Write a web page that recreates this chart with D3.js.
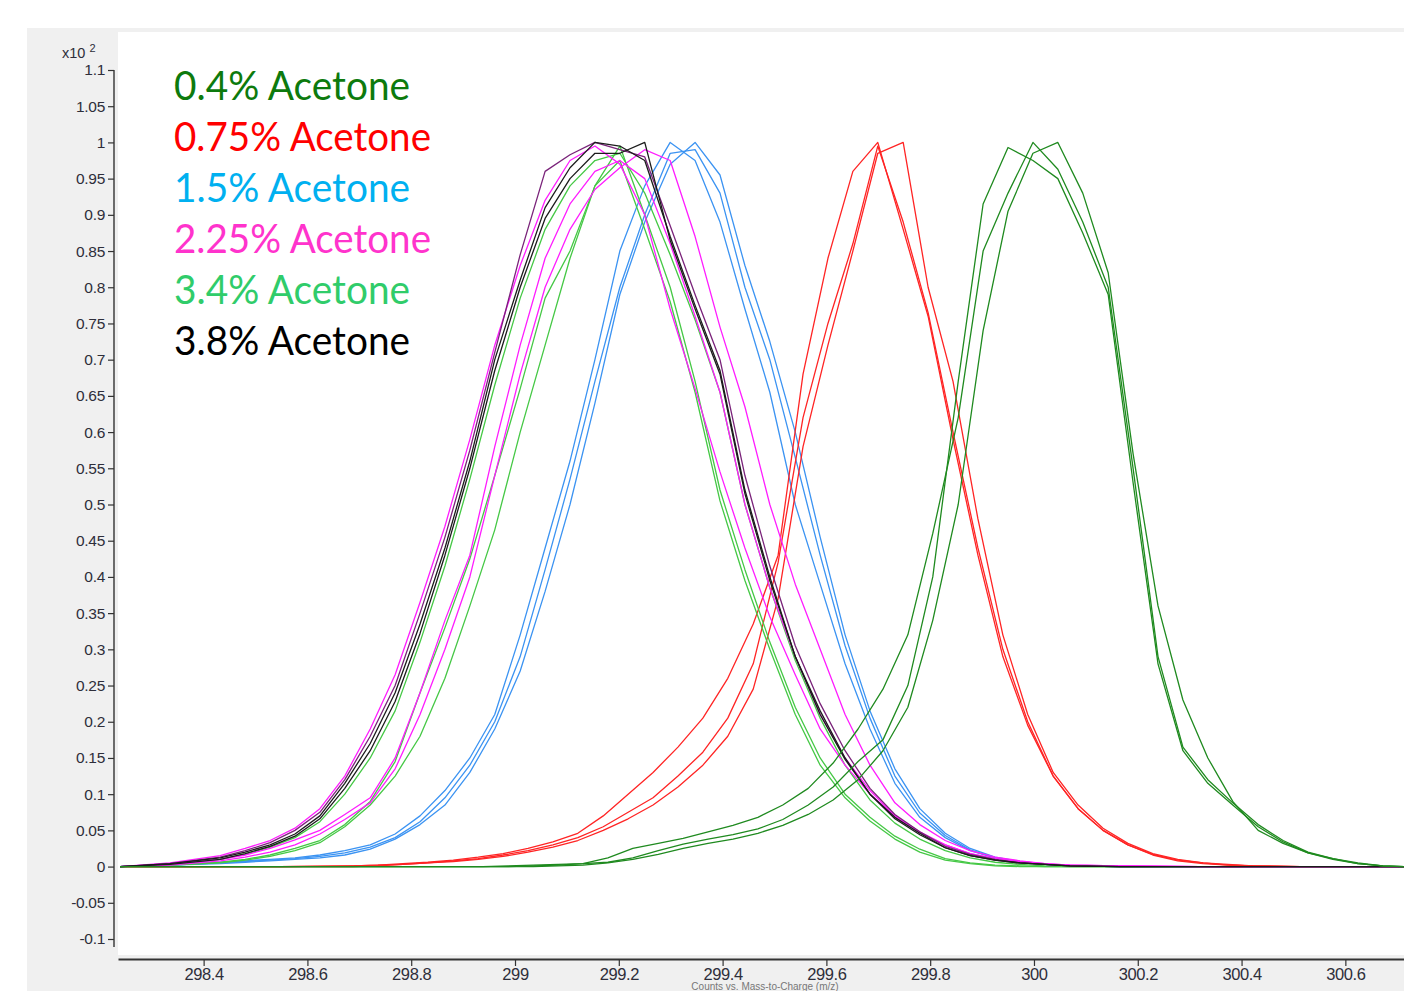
<!DOCTYPE html>
<html>
<head>
<meta charset="utf-8">
<script src="https://cdn.jsdelivr.net/npm/d3@7"></script>
<style>
  body { margin: 0; background: #fff; }
</style>
</head>
<body>
<div id="chart"></div>
<script>
// m/z grid shared by the 1.5%, 2.25%, 3.4% and 3.8% traces
var mainMz = [298.239, 298.335, 298.432, 298.480, 298.528, 298.576, 298.624, 298.672, 298.721, 298.769,
              298.817, 298.865, 298.913, 298.961, 299.010, 299.058, 299.106, 299.154, 299.202, 299.250,
              299.299, 299.347, 299.395, 299.443, 299.491, 299.540, 299.588, 299.636, 299.684, 299.732,
              299.780, 299.829, 299.877, 299.925, 299.973, 300.021, 300.069, 300.166, 300.320, 300.513, 300.713];

var black1 = [0, 0.004, 0.012, 0.02, 0.03, 0.045, 0.07, 0.115, 0.17, 0.24, 0.335, 0.44, 0.56, 0.70, 0.81, 0.91, 0.965, 1.0, 0.995, 0.975,
              0.87, 0.775, 0.685, 0.52, 0.40, 0.29, 0.215, 0.15, 0.10, 0.068, 0.046, 0.026, 0.015, 0.009, 0.005, 0.003, 0.001, 0, 0, 0, 0];
var black2 = [0, 0.003, 0.01, 0.018, 0.028, 0.042, 0.066, 0.108, 0.16, 0.228, 0.322, 0.43, 0.55, 0.685, 0.80, 0.895, 0.95, 0.985, 0.985, 1.0,
              0.865, 0.77, 0.68, 0.515, 0.395, 0.29, 0.21, 0.148, 0.10, 0.066, 0.044, 0.026, 0.015, 0.009, 0.005, 0.003, 0.001, 0, 0, 0, 0];
var purple3 = [0, 0.004, 0.013, 0.022, 0.033, 0.05, 0.075, 0.12, 0.18, 0.25, 0.35, 0.455, 0.575, 0.71, 0.845, 0.96, 0.983, 1.0, 0.99, 0.98,
               0.885, 0.79, 0.70, 0.54, 0.415, 0.305, 0.225, 0.16, 0.108, 0.072, 0.048, 0.028, 0.017, 0.01, 0.005, 0.003, 0.001, 0, 0, 0, 0];

var mag1 = [0, 0.005, 0.015, 0.025, 0.036, 0.053, 0.08, 0.125, 0.19, 0.265, 0.365, 0.47, 0.59, 0.72, 0.83, 0.92, 0.975, 0.995, 0.97, 0.90,
            0.77, 0.66, 0.545, 0.44, 0.345, 0.265, 0.19, 0.14, 0.10, 0.07, 0.047, 0.03, 0.018, 0.011, 0.007, 0.004, 0.002, 0.001, 0, 0, 0];
var mag2 = [0, 0.003, 0.01, 0.016, 0.025, 0.037, 0.05, 0.072, 0.095, 0.15, 0.24, 0.34, 0.43, 0.58, 0.72, 0.84, 0.915, 0.96, 0.975, 0.95,
            0.86, 0.76, 0.655, 0.50, 0.385, 0.29, 0.21, 0.15, 0.105, 0.07, 0.048, 0.03, 0.018, 0.011, 0.006, 0.003, 0.002, 0.001, 0, 0, 0];
var mag3 = [0, 0.002, 0.008, 0.013, 0.02, 0.03, 0.045, 0.065, 0.088, 0.135, 0.21, 0.30, 0.40, 0.54, 0.68, 0.80, 0.88, 0.935, 0.965, 0.99,
            0.975, 0.87, 0.745, 0.635, 0.50, 0.39, 0.30, 0.21, 0.14, 0.088, 0.058, 0.036, 0.022, 0.013, 0.008, 0.004, 0.002, 0.001, 0, 0, 0];

var lgreen1 = [0, 0.003, 0.01, 0.017, 0.027, 0.04, 0.062, 0.10, 0.15, 0.215, 0.31, 0.415, 0.535, 0.665, 0.785, 0.88, 0.94, 0.975, 0.985, 0.93,
               0.845, 0.755, 0.655, 0.50, 0.385, 0.285, 0.205, 0.14, 0.092, 0.06, 0.038, 0.022, 0.012, 0.006, 0.003, 0.001, 0, 0, 0, 0, 0];
var lgreen2 = [0, 0.002, 0.006, 0.01, 0.016, 0.025, 0.036, 0.058, 0.09, 0.145, 0.24, 0.33, 0.425, 0.54, 0.66, 0.785, 0.85, 0.94, 0.995, 0.90,
               0.80, 0.67, 0.52, 0.41, 0.31, 0.22, 0.15, 0.10, 0.068, 0.042, 0.024, 0.011, 0.005, 0.002, 0.001, 0, 0, 0, 0, 0, 0];
var lgreen3 = [0, 0.002, 0.005, 0.009, 0.014, 0.022, 0.033, 0.055, 0.085, 0.125, 0.18, 0.26, 0.36, 0.465, 0.60, 0.72, 0.84, 0.94, 0.975, 0.88,
               0.78, 0.655, 0.505, 0.395, 0.30, 0.21, 0.14, 0.095, 0.063, 0.038, 0.02, 0.009, 0.004, 0.001, 0, 0, 0, 0, 0, 0, 0];

var blue1 = [0, 0.003, 0.006, 0.008, 0.01, 0.012, 0.016, 0.022, 0.03, 0.045, 0.07, 0.105, 0.15, 0.21, 0.32, 0.44, 0.56, 0.70, 0.85, 0.94,
             1.0, 0.975, 0.89, 0.77, 0.655, 0.50, 0.39, 0.28, 0.19, 0.115, 0.068, 0.04, 0.022, 0.012, 0.006, 0.003, 0.001, 0, 0, 0, 0];
var blue2 = [0, 0.002, 0.004, 0.006, 0.008, 0.01, 0.012, 0.016, 0.024, 0.038, 0.058, 0.085, 0.13, 0.19, 0.27, 0.38, 0.50, 0.64, 0.79, 0.89,
             0.97, 1.0, 0.955, 0.83, 0.725, 0.60, 0.455, 0.32, 0.215, 0.135, 0.08, 0.046, 0.025, 0.013, 0.007, 0.003, 0.001, 0, 0, 0, 0];
var blue3 = [0, 0.002, 0.005, 0.007, 0.009, 0.011, 0.014, 0.019, 0.027, 0.04, 0.062, 0.095, 0.14, 0.20, 0.29, 0.41, 0.535, 0.67, 0.80, 0.90,
             0.985, 0.99, 0.93, 0.80, 0.70, 0.565, 0.43, 0.305, 0.205, 0.125, 0.074, 0.043, 0.023, 0.012, 0.006, 0.003, 0.001, 0, 0, 0, 0];

// 0.75% acetone
var redMz = [298.239, 298.393, 298.547, 298.688, 298.736, 298.784, 298.832, 298.881, 298.929, 298.977,
             299.025, 299.073, 299.121, 299.170, 299.218, 299.266, 299.314, 299.362, 299.410, 299.459,
             299.507, 299.555, 299.603, 299.651, 299.699, 299.748, 299.796, 299.844, 299.892, 299.940,
             299.988, 300.037, 300.085, 300.133, 300.181, 300.229, 300.277, 300.326, 300.374, 300.422, 300.513, 300.713];
var red1 = [0, 0, 0, 0.001, 0.002, 0.004, 0.006, 0.009, 0.013, 0.018, 0.025, 0.034, 0.046, 0.07, 0.10, 0.13, 0.165, 0.205, 0.26, 0.335,
            0.43, 0.68, 0.84, 0.96, 1.0, 0.88, 0.76, 0.59, 0.43, 0.29, 0.195, 0.125, 0.08, 0.05, 0.03, 0.016, 0.008, 0.004, 0.002, 0.001, 0, 0];
var red2 = [0, 0, 0, 0.001, 0.002, 0.003, 0.005, 0.008, 0.011, 0.016, 0.022, 0.03, 0.04, 0.055, 0.075, 0.095, 0.125, 0.158, 0.205, 0.28,
            0.42, 0.62, 0.75, 0.86, 0.995, 0.89, 0.765, 0.60, 0.44, 0.30, 0.20, 0.125, 0.08, 0.05, 0.03, 0.017, 0.009, 0.005, 0.002, 0.001, 0, 0];
var red3 = [0, 0, 0, 0, 0.001, 0.003, 0.005, 0.007, 0.01, 0.014, 0.02, 0.027, 0.036, 0.05, 0.066, 0.085, 0.11, 0.14, 0.18, 0.245,
            0.37, 0.58, 0.72, 0.85, 0.985, 1.0, 0.80, 0.67, 0.48, 0.32, 0.21, 0.13, 0.085, 0.053, 0.032, 0.018, 0.01, 0.005, 0.003, 0.001, 0, 0];

// 0.4% acetone
var dgreenMz = [298.239, 298.393, 298.586, 298.778, 298.938, 298.987, 299.035, 299.083, 299.131, 299.179,
                299.227, 299.276, 299.324, 299.372, 299.420, 299.468, 299.516, 299.565, 299.613, 299.661,
                299.709, 299.757, 299.805, 299.854, 299.902, 299.950, 299.998, 300.046, 300.094, 300.143,
                300.191, 300.239, 300.287, 300.335, 300.383, 300.432, 300.480, 300.528, 300.576, 300.624, 300.672, 300.713];
var dgreen1 = [0, 0, 0, 0, 0, 0.001, 0.002, 0.003, 0.004, 0.006, 0.012, 0.022, 0.031, 0.038, 0.044, 0.052, 0.065, 0.085, 0.11, 0.145,
               0.175, 0.25, 0.40, 0.67, 0.915, 0.993, 0.975, 0.95, 0.875, 0.79, 0.53, 0.28, 0.16, 0.115, 0.085, 0.055, 0.034, 0.019, 0.01, 0.004, 0.001, 0];
var dgreen2 = [0, 0, 0, 0, 0, 0, 0.001, 0.002, 0.004, 0.012, 0.025, 0.032, 0.039, 0.048, 0.057, 0.068, 0.085, 0.108, 0.143, 0.19,
               0.245, 0.32, 0.46, 0.62, 0.85, 0.93, 1.0, 0.963, 0.89, 0.80, 0.55, 0.29, 0.165, 0.12, 0.088, 0.058, 0.036, 0.02, 0.011, 0.005, 0.001, 0];
var dgreen3 = [0, 0, 0, 0, 0, 0, 0, 0.001, 0.002, 0.005, 0.01, 0.017, 0.025, 0.032, 0.038, 0.046, 0.057, 0.072, 0.092, 0.12,
               0.16, 0.22, 0.34, 0.50, 0.74, 0.905, 0.985, 1.0, 0.93, 0.82, 0.57, 0.36, 0.23, 0.15, 0.09, 0.05, 0.032, 0.019, 0.011, 0.004, 0.001, 0];

var legendLabels = ["0.4% Acetone", "0.75% Acetone", "1.5% Acetone", "2.25% Acetone", "3.4% Acetone", "3.8% Acetone"];

var xTicks = [298.4, 298.6, 298.8, 299, 299.2, 299.4, 299.6, 299.8, 300, 300.2, 300.4, 300.6];
var xTickLabels = ["298.4", "298.6", "298.8", "299", "299.2", "299.4", "299.6", "299.8", "300", "300.2", "300.4", "300.6"];
var yTicks = [1.1, 1.05, 1, 0.95, 0.9, 0.85, 0.8, 0.75, 0.7, 0.65, 0.6, 0.55, 0.5, 0.45, 0.4, 0.35, 0.3, 0.25, 0.2, 0.15, 0.1, 0.05, 0, -0.05, -0.1];
var yTickLabels = ["1.1", "1.05", "1", "0.95", "0.9", "0.85", "0.8", "0.75", "0.7", "0.65", "0.6", "0.55", "0.5", "0.45", "0.4",
                   "0.35", "0.3", "0.25", "0.2", "0.15", "0.1", "0.05", "0", "-0.05", "-0.1"];

// traces in drawing order (later ones end up on top)
var traces = [
    {mz: mainMz, v: blue1, c: "#3b93f2"},
    {mz: mainMz, v: blue2, c: "#3b93f2"},
    {mz: mainMz, v: blue3, c: "#3b93f2"},
    {mz: redMz, v: red1, c: "#ff2424"},
    {mz: redMz, v: red2, c: "#ff2424"},
    {mz: redMz, v: red3, c: "#ff2424"},
    {mz: mainMz, v: lgreen1, c: "#45c845"},
    {mz: mainMz, v: lgreen2, c: "#45c845"},
    {mz: mainMz, v: lgreen3, c: "#45c845"},
    {mz: mainMz, v: mag1, c: "#ff1cff"},
    {mz: mainMz, v: mag2, c: "#ff1cff"},
    {mz: mainMz, v: mag3, c: "#ff1cff"},
    {mz: mainMz, v: purple3, c: "#7a237a"},
    {mz: mainMz, v: black1, c: "#1c1c1c"},
    {mz: mainMz, v: black2, c: "#1c1c1c"},
    {mz: dgreenMz, v: dgreen1, c: "#1f8a1f"},
    {mz: dgreenMz, v: dgreen2, c: "#1f8a1f"},
    {mz: dgreenMz, v: dgreen3, c: "#1f8a1f"}
];
var legendColors = ["#0d7a0d", "#ff0000", "#00b0f0", "#ff33cc", "#30cc6a", "#000000"];
var legendWidths = [236, 257, 236, 257, 236, 236];

var width = 1404, height = 991;
var plot = {left: 118, top: 32, right: 1404, bottom: 955};
var tickFont = "'Liberation Sans', Arial, sans-serif";

var svg = d3.select("#chart")
  .append("svg")
    .attr("width", width)
    .attr("height", height);

// grey frame and white plot area
svg.append("rect")
    .attr("x", 27).attr("y", 28)
    .attr("width", width - 27).attr("height", height - 28)
    .style("fill", "#f0f0f0");
svg.append("rect")
    .attr("x", plot.left).attr("y", plot.top)
    .attr("width", plot.right - plot.left).attr("height", plot.bottom - plot.top)
    .style("fill", "#ffffff");

var x = d3.scaleLinear().domain([298.235, 300.713]).range([plot.left, plot.right]);
var y = d3.scaleLinear().domain([-0.1, 1.1]).range([939, 70]);

svg.append("clipPath").attr("id", "clip")
  .append("rect")
    .attr("x", plot.left).attr("y", plot.top)
    .attr("width", plot.right - plot.left).attr("height", plot.bottom - plot.top);

var line = d3.line()
    .x(function(d) { return x(d[0]); })
    .y(function(d) { return y(d[1]); });

svg.append("g")
    .attr("clip-path", "url(#clip)")
  .selectAll("path")
  .data(traces)
  .enter()
  .append("path")
    .attr("d", function(t) { return line(t.mz.map(function(m, i) { return [m, t.v[i]]; })); })
    .style("fill", "none")
    .style("stroke", function(t) { return t.c; })
    .style("stroke-width", 1.3)
    .style("stroke-linejoin", "round");

// y axis
var gy = svg.append("g")
    .attr("transform", "translate(114,0)")
    .call(d3.axisLeft(y)
        .tickValues(yTicks)
        .tickSize(6)
        .tickSizeOuter(0)
        .tickPadding(3)
        .tickFormat(function(d, i) { return yTickLabels[i]; }));
gy.select(".domain").remove();
gy.append("line")
    .attr("x1", 0).attr("x2", 0)
    .attr("y1", y(1.1)).attr("y2", y(-0.1) + 8)
    .style("stroke", "#333")
    .style("stroke-width", 1.4);
gy.selectAll(".tick line").style("stroke", "#333").style("stroke-width", 1.2);
gy.selectAll(".tick text")
    .style("font-family", tickFont)
    .style("font-size", "15.5px")
    .style("letter-spacing", "-0.3px")
    .style("fill", "#2e2e3a");

// x axis
var gx = svg.append("g")
    .attr("transform", "translate(0,959)")
    .call(d3.axisBottom(x)
        .tickValues(xTicks)
        .tickSize(7)
        .tickSizeOuter(0)
        .tickPadding(2)
        .tickFormat(function(d, i) { return xTickLabels[i]; }));
gx.select(".domain").style("stroke", "#333").style("stroke-width", 2.2);
gx.selectAll(".tick line").style("stroke", "#333").style("stroke-width", 1.2);
gx.selectAll(".tick text")
    .style("font-family", tickFont)
    .style("font-size", "16.5px")
    .style("letter-spacing", "-0.4px")
    .style("fill", "#2e2e3a");

// scale factor label
var sf = svg.append("text")
    .attr("x", 62).attr("y", 58)
    .style("font-family", tickFont)
    .style("font-size", "14.5px")
    .style("fill", "#2e2e3a");
sf.append("tspan").text("x10");
sf.append("tspan").attr("dx", 4).attr("dy", -6).style("font-size", "11px").text("2");

// axis title, squeezed into the strip under the tick labels
svg.append("text")
    .attr("x", 765).attr("y", 990)
    .attr("text-anchor", "middle")
    .style("font-family", tickFont)
    .style("font-size", "10px")
    .style("fill", "#777")
    .text("Counts vs. Mass-to-Charge (m/z)");

// legend
svg.append("g")
  .selectAll("text")
  .data(legendLabels)
  .enter()
  .append("text")
    .attr("x", 174)
    .attr("y", function(d, i) { return 100 + i * 51; })
    .attr("textLength", function(d, i) { return legendWidths[i]; })
    .attr("lengthAdjust", "spacingAndGlyphs")
    .style("font-family", "Lato, 'Open Sans', sans-serif")
    .style("font-size", "40px")
    .style("fill", function(d, i) { return legendColors[i]; })
    .text(function(d) { return d; });
</script>
</body>
</html>
